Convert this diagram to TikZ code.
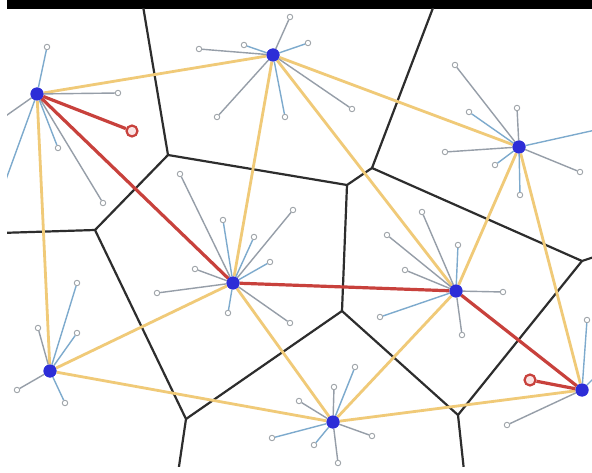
\documentclass[tikz,border=0pt]{standalone}
\definecolor{vorc}{RGB}{45,45,45}
\definecolor{delc}{RGB}{240,202,120}
\definecolor{redc}{RGB}{200,65,60}
\definecolor{hubc}{RGB}{45,45,215}
\definecolor{spka}{RGB}{125,170,205}
\definecolor{spkb}{RGB}{150,158,168}
\definecolor{tipc}{RGB}{160,165,170}
\definecolor{rfill}{RGB}{250,228,228}
\begin{document}
\begin{tikzpicture}[x=1pt,y=-1pt,
  hub/.style={circle, fill=hubc, inner sep=0pt, minimum size=13pt},
  tip/.style={circle, draw=tipc, fill=white, line width=0.9pt, inner sep=0pt, minimum size=5.5pt},
  rtip/.style={circle, draw=redc, fill=rfill, line width=2.2pt, inner sep=0pt, minimum size=11pt},
  vor/.style={draw=vorc, line width=2.2pt, line join=round},
  del/.style={draw=delc, line width=2.8pt},
  redpath/.style={draw=redc, line width=3.2pt},
  spoke/.style={draw=spka, line width=1.4pt},
  spokeb/.style={draw=spkb, line width=1.4pt}]
\useasboundingbox (0,0) rectangle (592,473);
\fill[white] (0,0) rectangle (592,473);
\fill[black] (7,0) rectangle (592,9);
\begin{scope}
\clip (7,9) rectangle (592,466);
% Voronoi vertices
\coordinate (T1) at (142,0);
\coordinate (V1) at (168,155);
\coordinate (V2) at (347,185);
\coordinate (V3) at (372,168);
\coordinate (T2) at (436,0);
\coordinate (V4) at (582,261);
\coordinate (Rt) at (600,255);
\coordinate (V5) at (458,415);
\coordinate (B5) at (465,480);
\coordinate (V6) at (342,311);
\coordinate (V7) at (186,419);
\coordinate (B7) at (177,480);
\coordinate (V8) at (95,230);
\coordinate (Lt) at (0,233);
\draw[vor] (T1) -- (V1) -- (V2) -- (V3) -- (T2);
\draw[vor] (V1) -- (V8) -- (Lt);
\draw[vor] (V8) -- (V7) -- (B7);
\draw[vor] (V7) -- (V6) -- (V5) -- (B5);
\draw[vor] (V6) -- (V2);
\draw[vor] (V3) -- (V4) -- (Rt);
\draw[vor] (V4) -- (V5);
% hubs
\node[hub] (A) at (37,94) {};
\node[hub] (B) at (273,55) {};
\node[hub] (C) at (519,147) {};
\node[hub] (D) at (233,283) {};
\node[hub] (E) at (456,291) {};
\node[hub] (F) at (50,371) {};
\node[hub] (G) at (333,422) {};
\node[hub] (H) at (582,390) {};
% Delaunay edges
\draw[del] (A) -- (B);
\draw[del] (A) -- (F);
\draw[del] (B) -- (D);
\draw[del] (B) -- (E);
\draw[del] (B) -- (C);
\draw[del] (C) -- (E);
\draw[del] (C) -- (H);
\draw[del] (D) -- (F);
\draw[del] (D) -- (G);
\draw[del] (E) -- (G);
\draw[del] (F) -- (G);
\draw[del] (G) -- (H);
% spokes A
\node[tip] (a1) at (47,47) {};
\node[tip] (a2) at (118,93) {};
\node[tip] (a3) at (58,148) {};
\node[tip] (a4) at (103,203) {};
\coordinate (a5) at (0,120);
\coordinate (a6) at (0,196);
\draw[spoke] (A) -- (a1);
\draw[spokeb] (A) -- (a2);
\draw[spoke] (A) -- (a3);
\draw[spokeb] (A) -- (a4);
\draw[spokeb] (A) -- (a5);
\draw[spoke] (A) -- (a6);
% spokes B
\node[tip] (b1) at (290,17) {};
\node[tip] (b2) at (308,43) {};
\node[tip] (b3) at (199,49) {};
\node[tip] (b4) at (244,45) {};
\node[tip] (b5) at (217,117) {};
\node[tip] (b6) at (285,117) {};
\node[tip] (b7) at (352,109) {};
\draw[spokeb] (B) -- (b1);
\draw[spoke] (B) -- (b2);
\draw[spokeb] (B) -- (b3);
\draw[spoke] (B) -- (b4);
\draw[spokeb] (B) -- (b5);
\draw[spoke] (B) -- (b6);
\draw[spokeb] (B) -- (b7);
% spokes C
\node[tip] (c1) at (455,65) {};
\node[tip] (c2) at (469,112) {};
\node[tip] (c3) at (517,108) {};
\node[tip] (c4) at (445,152) {};
\coordinate (c5) at (600,129);
\node[tip] (c6) at (580,172) {};
\node[tip] (c7) at (520,195) {};
\node[tip] (c8) at (495,165) {};
\draw[spokeb] (C) -- (c1);
\draw[spoke] (C) -- (c2);
\draw[spokeb] (C) -- (c3);
\draw[spokeb] (C) -- (c4);
\draw[spoke] (C) -- (c5);
\draw[spokeb] (C) -- (c6);
\draw[spoke] (C) -- (c7);
\draw[spoke] (C) -- (c8);
% spokes D
\node[tip] (d1) at (180,174) {};
\node[tip] (d2) at (223,220) {};
\node[tip] (d3) at (254,237) {};
\node[tip] (d4) at (293,210) {};
\node[tip] (d5) at (270,262) {};
\node[tip] (d6) at (195,269) {};
\node[tip] (d7) at (157,293) {};
\node[tip] (d8) at (228,313) {};
\node[tip] (d9) at (290,323) {};
\draw[spokeb] (D) -- (d1);
\draw[spoke] (D) -- (d2);
\draw[spoke] (D) -- (d3);
\draw[spokeb] (D) -- (d4);
\draw[spoke] (D) -- (d5);
\draw[spokeb] (D) -- (d6);
\draw[spokeb] (D) -- (d7);
\draw[spoke] (D) -- (d8);
\draw[spokeb] (D) -- (d9);
% spokes E
\node[tip] (e1) at (422,212) {};
\node[tip] (e2) at (387,235) {};
\node[tip] (e3) at (458,245) {};
\node[tip] (e4) at (405,270) {};
\node[tip] (e5) at (503,292) {};
\node[tip] (e6) at (380,317) {};
\node[tip] (e7) at (462,335) {};
\draw[spokeb] (E) -- (e1);
\draw[spokeb] (E) -- (e2);
\draw[spoke] (E) -- (e3);
\draw[spokeb] (E) -- (e4);
\draw[spokeb] (E) -- (e5);
\draw[spoke] (E) -- (e6);
\draw[spokeb] (E) -- (e7);
% spokes F
\node[tip] (f1) at (77,283) {};
\node[tip] (f2) at (38,328) {};
\node[tip] (f3) at (77,333) {};
\node[tip] (f4) at (17,390) {};
\node[tip] (f5) at (65,403) {};
\draw[spoke] (F) -- (f1);
\draw[spokeb] (F) -- (f2);
\draw[spoke] (F) -- (f3);
\draw[spokeb] (F) -- (f4);
\draw[spoke] (F) -- (f5);
% spokes G
\node[tip] (g1) at (355,367) {};
\node[tip] (g2) at (334,387) {};
\node[tip] (g3) at (299,401) {};
\node[tip] (g4) at (272,438) {};
\node[tip] (g5) at (314,445) {};
\node[tip] (g6) at (372,436) {};
\node[tip] (g7) at (338,463) {};
\draw[spoke] (G) -- (g1);
\draw[spokeb] (G) -- (g2);
\draw[spokeb] (G) -- (g3);
\draw[spoke] (G) -- (g4);
\draw[spoke] (G) -- (g5);
\draw[spokeb] (G) -- (g6);
\draw[spokeb] (G) -- (g7);
% spokes H
\node[tip] (h1) at (587,320) {};
\node[tip] (h2) at (507,425) {};
\coordinate (h3) at (600,372);
\draw[spoke] (H) -- (h1);
\draw[spokeb] (H) -- (h2);
\draw[spoke] (H) -- (h3);
% red path
\node[rtip] (R1) at (132,131) {};
\node[rtip] (R2) at (530,380) {};
\draw[redpath] (R1) -- (A);
\draw[redpath] (A) -- (D);
\draw[redpath] (D) -- (E);
\draw[redpath] (E) -- (H);
\draw[redpath] (H) -- (R2);
% hubs on top
\foreach \n in {A,B,C,D,E,F,G,H} \fill[hubc] (\n) circle (6.5pt);
\end{scope}
\end{tikzpicture}
\end{document}
